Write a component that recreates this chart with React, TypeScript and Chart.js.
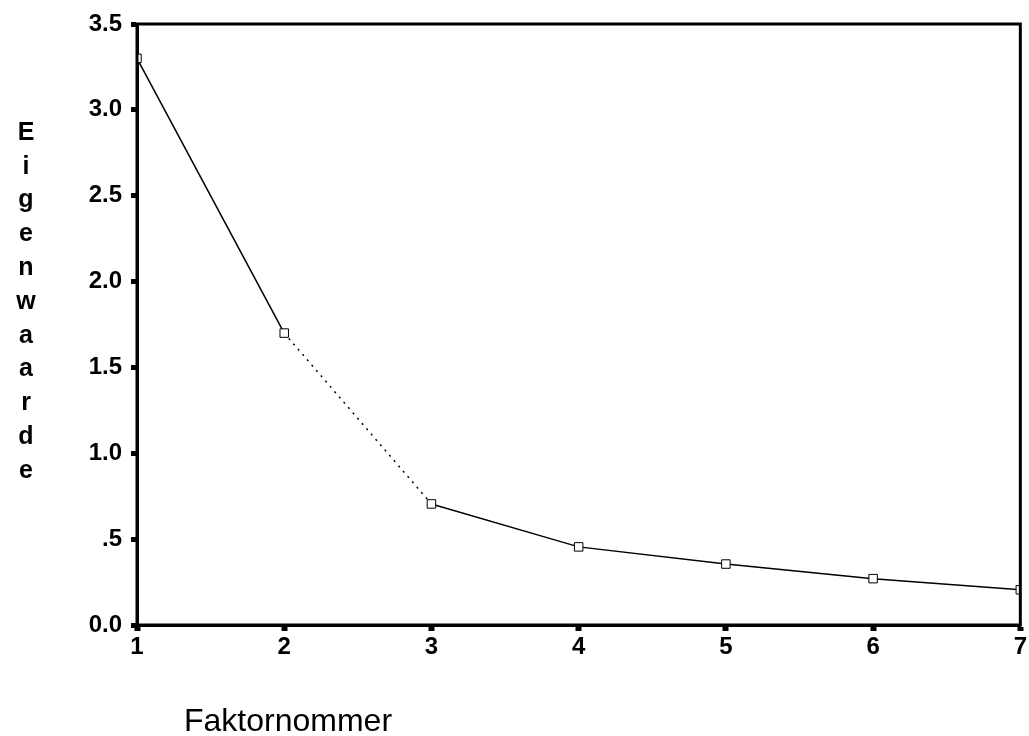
import React, { useEffect, useRef } from "react";
import { Chart, registerables } from "chart.js";

Chart.register(...registerables);

const factors = [1, 2, 3, 4, 5, 6, 7];
const eigenvalues = [3.3, 1.7, 0.705, 0.455, 0.355, 0.27, 0.205];
const yTickLabels: Record<string, string> = {
  "0": "0.0",
  "0.5": ".5",
  "1": "1.0",
  "1.5": "1.5",
  "2": "2.0",
  "2.5": "2.5",
  "3": "3.0",
  "3.5": "3.5",
};
const yTitle = "Eigenwaarde";
const xTitle = "Faktornommer";

const framePlugin = {
  id: "frameAndTitles",
  afterDraw(chart: any) {
    const { ctx, chartArea } = chart;
    ctx.save();
    ctx.strokeStyle = "#000";
    ctx.lineWidth = 3;
    ctx.strokeRect(chartArea.left, chartArea.top, chartArea.right - chartArea.left, chartArea.bottom - chartArea.top);
    ctx.fillStyle = "#000";
    ctx.textAlign = "center";
    ctx.textBaseline = "middle";
    ctx.font = "bold 25px 'Liberation Sans', Arial, sans-serif";
    const letters = yTitle.split("");
    letters.forEach((ch, i) => {
      ctx.fillText(ch, 26, 133 + i * 33.8);
    });
    ctx.font = "32px 'Liberation Sans', Arial, sans-serif";
    ctx.textAlign = "left";
    ctx.fillText(xTitle, 184, 722);
    ctx.restore();
  },
};

export default function App() {
  const ref = useRef<HTMLCanvasElement | null>(null);
  useEffect(() => {
    if (!ref.current) return;
    const chart = new Chart(ref.current, {
      type: "line",
      data: {
        datasets: [
          {
            data: factors.map((f, i) => ({ x: f, y: eigenvalues[i] })),
            borderColor: "#000",
            borderWidth: 1.5,
            pointStyle: "rect",
            pointRadius: 6,
            pointBorderWidth: 1,
            pointBorderColor: "#000",
            pointBackgroundColor: "#fff",
            tension: 0,
            segment: {
              borderDash: (c: any) => (c.p0DataIndex === 1 ? [2, 5] : undefined),
            },
          },
        ],
      },
      plugins: [framePlugin],
      options: {
        animation: false,
        responsive: false,
        events: [],
        layout: { padding: { left: 0, top: 24, right: 7, bottom: 0 } },
        plugins: { legend: { display: false }, tooltip: { enabled: false } },
        scales: {
          x: {
            type: "linear",
            min: 1,
            max: 7,
            ticks: {
              stepSize: 1,
              color: "#000",
              padding: 2,
              font: { family: "'Liberation Sans', Arial, sans-serif", size: 24, weight: "bold" },
              maxRotation: 0,
            },
            grid: { drawOnChartArea: false, drawTicks: true, tickLength: 6, tickWidth: 6, color: "#000" },
            border: { display: true, color: "#000", width: 3 },
            afterFit: (s: any) => {
              s.height = 111;
            },
          },
          y: {
            min: 0,
            max: 3.5,
            ticks: {
              stepSize: 0.5,
              color: "#000",
              padding: 9,
              font: { family: "'Liberation Sans', Arial, sans-serif", size: 24, weight: "bold" },
              callback: (v: any) => yTickLabels[String(v)] ?? String(v),
            },
            grid: { drawOnChartArea: false, drawTicks: true, tickLength: 6, tickWidth: 5, color: "#000" },
            border: { display: true, color: "#000", width: 3 },
            afterFit: (s: any) => {
              s.width = 137;
            },
          },
        },
      },
    });
    return () => chart.destroy();
  }, []);
  return (
    <div style={{ position: "absolute", left: 0, top: 0, width: 1029, height: 736, background: "#fff" }}>
      <canvas ref={ref} width={1029} height={736} style={{ display: "block" }} />
    </div>
  );
}
